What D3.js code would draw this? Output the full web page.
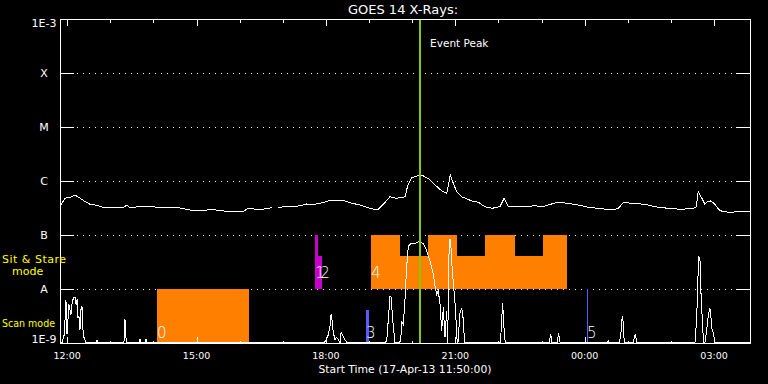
<!DOCTYPE html>
<html>
<head>
<meta charset="utf-8">
<script src="https://cdn.jsdelivr.net/npm/d3@7"></script>
<style>
  html, body { margin: 0; background: #000; }
  svg { display: block; }
  text { font-family: "DejaVu Sans", sans-serif; }
</style>
</head>
<body>
<div id="chart"></div>
<script>
// times are minutes after the start time (17-Apr-13 11:50:00), flux in W/m^2

// long channel (upper curve)
var longMin = [0,7,14,21,28,35,42,51,60,74,88,93,97,115,125,139,153,160,176,185,
  199,211,223,241,255,262,274,282,289,295,298,303,316,324,334,343,352,366,378,394,
  403,417,431,442,449,459,468,480,484,489,498,505,512,522,531,538,540,543,547,552,
  559,573,582,591,601,612,618,624,633,647,661,670,679,693,707,721,735,749,768,777,
  784,795,814,828,846,865,881,885,888,893,897,901,905,910,918,930,944,960];
var longFlux = [3.34e-7,4.8e-7,5.0e-7,5.5e-7,4.8e-7,4.14e-7,3.7e-7,3.55e-7,3.26e-7,3.2e-7,
  3.2e-7,3.6e-7,3.2e-7,3.4e-7,3.4e-7,3.2e-7,3.2e-7,3.3e-7,2.99e-7,2.82e-7,
  2.82e-7,2.99e-7,2.82e-7,2.7e-7,2.74e-7,3.12e-7,2.99e-7,2.99e-7,3.12e-7,3.2e-7,
  null,3.2e-7,3.4e-7,3.3e-7,3.49e-7,3.75e-7,3.64e-7,3.97e-7,4.45e-7,4.4e-7,
  3.97e-7,3.6e-7,3.12e-7,2.9e-7,3.6e-7,5.1e-7,4.8e-7,5.1e-7,8.4e-7,1.15e-6,
  1.25e-6,1.25e-6,1.12e-6,8.4e-7,6.6e-7,5.9e-7,7.8e-7,1.29e-6,9.2e-7,6.3e-7,
  5.1e-7,4.27e-7,4.04e-7,3.34e-7,3.12e-7,3.34e-7,4.8e-7,3.34e-7,3.44e-7,3.34e-7,
  3.49e-7,3.3e-7,3.6e-7,4.04e-7,3.86e-7,3.6e-7,3.26e-7,3.12e-7,2.9e-7,3.12e-7,
  4.04e-7,3.86e-7,3.7e-7,3.34e-7,3.12e-7,2.99e-7,3.12e-7,3.3e-7,6.3e-7,4.8e-7,
  3.75e-7,4.14e-7,4.27e-7,3.86e-7,2.82e-7,2.63e-7,2.7e-7,2.7e-7];

// short channel (lower curve), mostly below 1E-9
var shortMin = [0,2.8,5.6,7,8.3,9.7,11.1,12.5,13.9,15.3,16.7,18.1,19.5,20.9,22.3,23.7,25,26.4,27.8,29.2,30.6,32,33.4,36.2,
  50.1,51.5,52.9, 89,90.4,91.8,93.2, 110,111.3,112.7, 118.3,119.7,121,
  367.3,370,372.9,375.7,377.1,378.8,380.2,382.6,385,387.2,389.6,391,393.3,395.5,398.9,
  452.2,454.5,456.8,459.1,460.5,461.5,463.7,466.1,
  471.7,474,475.4,477.6,480,481.4,482.4,484.6,489.3,493.9,498.5,500.9,505.5,510.2,514.8,519.4,521.7,524.1,526.3,528.7,
  531.1,533.3,535.6,538,539.4,541.2,542.6,544,545.8,548.6,550.5,551.9,553.7,556.5,558.9,561.1,562.8,
  612.9,614.5,615.9,617.7,619.5, 680.4,682.7,684.5, 691.5,693.8,695.7, 761.7,762.8,763.8,
  778.4,780.5,781.9,782.9,783.7,785.1, 797.9,799.3,800.7,802.4,
  883.5,885.8,887.2,888.6,890.4,891.8,893.6,895.3,897.4,899.7,901.9,903.9,905.3,906.7,908.9,911.3,960];
var shortFlux = [5e-10,5e-10,1.35e-9,2.67e-9,6.0e-9,1.41e-9,2.67e-9,5.05e-9,4.08e-9,3.3e-9,5.05e-9,6.25e-9,6.8e-9,6.8e-9,5.05e-9,6.25e-9,2.9e-9,3.0e-9,1.74e-9,4.08e-9,4.64e-9,1.74e-9,1.24e-9,5e-10,
  5e-10,1.09e-9,5e-10, 5e-10,2.67e-9,1.24e-9,5e-10, 5e-10,1.14e-9,5e-10, 5e-10,1.14e-9,5e-10,
  5e-10,1.09e-9,1.35e-9,2.0e-9,3.3e-9,2.48e-9,1.53e-9,1.14e-9,1.24e-9,1.14e-9,5e-10,1.53e-9,1.35e-9,1.19e-9,5e-10,
  5e-10,1.06e-9,2.67e-9,7.0e-9,7.1e-9,4.7e-9,2.0e-9,5e-10,
  5e-10,1.06e-9,2.38e-9,2.15e-9,6.25e-9,1.47e-8,2.59e-8,6.17e-8,6.9e-8,6.8e-8,7.3e-8,7.2e-8,6.8e-8,5.0e-8,3.26e-8,1.84e-8,1.12e-8,7.8e-9,9.1e-9,5.1e-9,
  1.67e-9,4.45e-9,1.24e-9,3.9e-9,5e-10,4.3e-8,8.2e-8,5.7e-8,2.15e-8,7.8e-9,3.86e-9,1.24e-9,5e-10,3.55e-9,4.39e-9,2.67e-9,5e-10,
  5e-10,2.67e-9,5.27e-9,1.87e-9,5e-10, 5e-10,1.41e-9,5e-10, 5e-10,1.47e-9,5e-10, 5e-10,1.09e-9,5e-10,
  5e-10,1.53e-9,2.67e-9,3.07e-9,2.0e-9,5e-10, 5e-10,1.35e-9,1.41e-9,5e-10,
  5e-10,2.67e-9,1.1e-8,3.96e-8,3.44e-8,8.3e-9,2.67e-9,5e-10,5e-10,1.74e-9,3.07e-9,4.39e-9,3.55e-9,1.87e-9,1.51e-9,5e-10,5e-10];

// GOES class levels
var levelValues = [1e-9, 1e-8, 1e-7, 1e-6, 1e-5, 1e-4, 1e-3];
var levelNames = ["1E-9", "A", "B", "C", "M", "X", "1E-3"];

// observing events: one label per event, drawn as one or more segments
var eventIds = [0, 1, 2, 3, 4, 5];
var eventMode = ["scan", "sit", "sit", "scan", "sit", "scan"];
var eventGroup = ["g1", "g2", "g2", "g3", "g1", "g3"];
var segEvent = [0, 1, 2, 3, 4, 4, 4, 4, 4, 4, 4, 5];
var segStart = [135, 355, 359.4, 425.7, 433, 473, 512, 553, 591, 633, 672, 733.2];
var segEnd   = [263, 359.4, 364.1, 429.9, 473, 512, 553, 591, 633, 672, 706, 733.2];
var segTop   = [1e-8, 1e-7, 4.1e-8, 4.1e-9, 1e-7, 4.1e-8, 1e-7, 4.1e-8, 1e-7, 4.1e-8, 1e-7, 1e-8];
var modeBottom = { scan: 1e-9, sit: 1e-8 };
var modeLabelLevel = { scan: 1.24e-9, sit: 1.6e-8 };

var peakMin = 501; // event peak
var startLabel = "Start Time (17-Apr-13 11:50:00)";

// layout
var width = 768, height = 384;
var pLeft = 60, pRight = 750, pTop = 19, pBottom = 343;

var svg = d3.select("#chart").append("svg")
    .attr("width", width)
    .attr("height", height)
    .style("background", "#000");

var t0 = new Date(2013, 3, 17, 11, 50, 0);
function tm(m) { return new Date(t0.getTime() + m * 60000); }

var x = d3.scaleTime().domain([t0, tm(960)]).range([pLeft, pRight]);
var y = d3.scaleLog().domain([1e-9, 1e-3]).range([pBottom, pTop]);
var yc = y.copy().clamp(true);

var color = d3.scaleOrdinal()
    .domain(["g1", "g2", "g3"])
    .range(["#ff8000", "#cc00cc", "#5a5aff"]);

// dotted grid at the class levels
svg.append("g").selectAll("line")
    .data(levelValues.slice(1, -1))
    .enter().append("line")
    .attr("x1", pLeft + 17).attr("x2", pRight - 14)
    .attr("y1", function (d) { return Math.round(y(d)) + 0.5; })
    .attr("y2", function (d) { return Math.round(y(d)) + 0.5; })
    .attr("stroke", "#fff")
    .attr("stroke-dasharray", "1,5")
    .attr("shape-rendering", "crispEdges");

// event blocks
svg.append("g").selectAll("rect")
    .data(segEvent)
    .enter().append("rect")
    .attr("x", function (d, i) { return x(tm(segStart[i])); })
    .attr("width", function (d, i) { return Math.max(1, x(tm(segEnd[i])) - x(tm(segStart[i]))); })
    .attr("y", function (d, i) { return y(segTop[i]); })
    .attr("height", function (d, i) { return y(modeBottom[eventMode[d]]) - y(segTop[i]); })
    .attr("fill", function (d) { return color(eventGroup[d]); })
    .attr("shape-rendering", "crispEdges");

// event numbers
svg.append("g").selectAll("text")
    .data(eventIds)
    .enter().append("text")
    .attr("x", function (d) { return x(tm(segStart[segEvent.indexOf(d)])) + (d == 2 ? 2 : 0); })
    .attr("y", function (d) { return y(modeLabelLevel[eventMode[d]]); })
    .attr("fill", "#fff")
    .attr("font-size", "15px")
    .attr("font-weight", 200)
    .text(function (d) { return d; });

// curves
var longData = longMin.map(function (m, i) { return { t: tm(m), v: longFlux[i] }; });
var shortData = shortMin.map(function (m, i) { return { t: tm(m), v: shortFlux[i] }; });

svg.append("path")
    .datum(longData)
    .attr("fill", "none")
    .attr("stroke", "#fff")
    .attr("stroke-width", 1)
    .attr("shape-rendering", "crispEdges")
    .attr("d", d3.line()
        .defined(function (d) { return d.v != null; })
        .x(function (d) { return x(d.t); })
        .y(function (d) { return y(d.v); }));

svg.append("path")
    .datum(shortData)
    .attr("fill", "none")
    .attr("stroke", "#fff")
    .attr("stroke-width", 1)
    .attr("shape-rendering", "crispEdges")
    .attr("d", d3.line()
        .x(function (d) { return x(d.t); })
        .y(function (d) { return yc(d.v) - 0.5; }));

// event peak marker
svg.append("line")
    .attr("x1", x(tm(peakMin))).attr("x2", x(tm(peakMin)))
    .attr("y1", pTop).attr("y2", pBottom)
    .attr("stroke", "#8cc800")
    .attr("stroke-width", 2)
    .attr("shape-rendering", "crispEdges");

svg.append("text")
    .attr("x", x(tm(peakMin)) + 10)
    .attr("y", 47)
    .attr("fill", "#fff")
    .attr("font-size", "10.5px")
    .text("Event Peak");

// frame
svg.append("rect")
    .attr("x", pLeft + 0.5).attr("y", pTop + 0.5)
    .attr("width", pRight - pLeft).attr("height", pBottom - pTop)
    .attr("fill", "none")
    .attr("stroke", "#fff")
    .attr("shape-rendering", "crispEdges");

// y ticks, both sides
var yt = svg.append("g").attr("shape-rendering", "crispEdges");
levelValues.forEach(function (v) {
    var yy = Math.round(y(v)) + 0.5;
    yt.append("line").attr("x1", pLeft).attr("x2", pLeft + 14).attr("y1", yy).attr("y2", yy).attr("stroke", "#fff");
    yt.append("line").attr("x1", pRight - 14).attr("x2", pRight).attr("y1", yy).attr("y2", yy).attr("stroke", "#fff");
});

svg.append("g").selectAll("text")
    .data(levelValues)
    .enter().append("text")
    .attr("x", 44)
    .attr("y", function (d, i) {
        if (i == 0) return y(d);
        if (i == levelValues.length - 1) return y(d) + 8;
        return y(d) + 4;
    })
    .attr("text-anchor", "middle")
    .attr("fill", "#fff")
    .attr("font-size", "11px")
    .text(function (d, i) { return levelNames[i]; });

// x ticks: hours, long every 3 hours
var hours = d3.timeHour.range(tm(1), tm(960));
var xt = svg.append("g").attr("shape-rendering", "crispEdges");
hours.forEach(function (h) {
    var xx = Math.round(x(h)) + 0.5;
    var len = h.getHours() % 3 == 0 ? 7 : 3.5;
    xt.append("line").attr("x1", xx).attr("x2", xx).attr("y1", pTop).attr("y2", pTop + len).attr("stroke", "#fff");
    xt.append("line").attr("x1", xx).attr("x2", xx).attr("y1", pBottom + 1).attr("y2", pBottom + 1 - len).attr("stroke", "#fff");
});

svg.append("g").selectAll("text")
    .data(hours.filter(function (h) { return h.getHours() % 3 == 0; }))
    .enter().append("text")
    .attr("x", function (d) { return x(d); })
    .attr("y", 358.5)
    .attr("text-anchor", "middle")
    .attr("fill", "#fff")
    .attr("font-size", "9.5px")
    .text(d3.timeFormat("%H:%M"));

svg.append("text")
    .attr("x", 405).attr("y", 373)
    .attr("text-anchor", "middle")
    .attr("fill", "#fff")
    .attr("font-size", "10.8px")
    .text(startLabel);

// title
svg.append("text")
    .attr("x", 403).attr("y", 14)
    .attr("text-anchor", "middle")
    .attr("fill", "#fff")
    .attr("font-size", "13px")
    .text("GOES 14 X-Rays:");

// mode names at left
svg.append("text").attr("x", 2).attr("y", 263).attr("fill", "#ffff00").attr("font-size", "11px")
    .attr("textLength", 64).text("Sit & Stare");
svg.append("text").attr("x", 12).attr("y", 275).attr("fill", "#ffff00").attr("font-size", "11px")
    .text("mode");
svg.append("text").attr("x", 2).attr("y", 327).attr("fill", "#ffff00").attr("font-size", "10.5px")
    .attr("textLength", 53).attr("lengthAdjust", "spacingAndGlyphs").text("Scan mode");
</script>
</body>
</html>
